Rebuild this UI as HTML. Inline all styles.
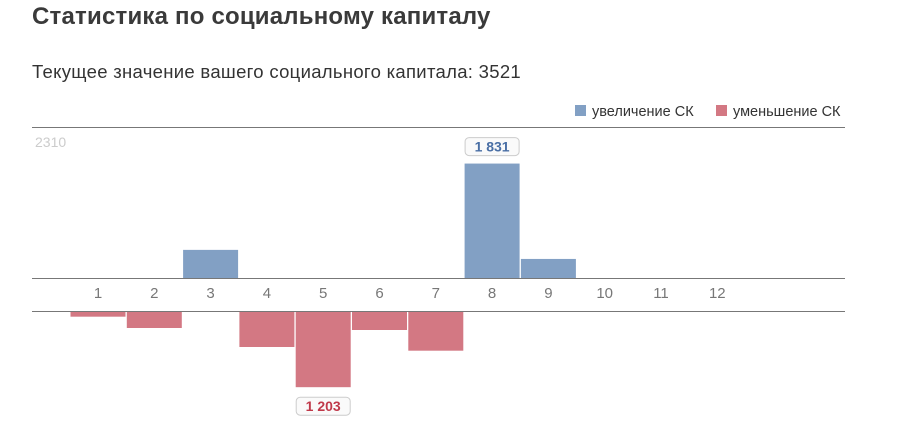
<!DOCTYPE html>
<html><head><meta charset="utf-8"><style>
body{margin:0;width:900px;height:440px;background:#fff;font-family:"Liberation Sans",sans-serif;overflow:hidden;position:relative}
h1{position:absolute;left:32px;top:3px;margin:0;font-size:24px;font-weight:bold;color:#3a3a3a;letter-spacing:0.2px}
.sub{position:absolute;left:32px;top:61px;font-size:18.5px;color:#333;letter-spacing:0.3px}
</style></head><body>
<h1>Статистика по социальному капиталу</h1>
<div class="sub">Текущее значение вашего социального капитала: 3521</div>
<svg id="c" width="900" height="440" style="position:absolute;left:0;top:0" font-family="Liberation Sans, sans-serif"></svg>
<script>
const categories=[1,2,3,4,5,6,7,8,9,10,11,12];
const increases=[0,0,450,0,0,0,0,1831,305,0,0,0];
const decreases=[75,256,0,560,1203,288,619,0,0,0,0,0];
const maxLabel="2310";
const legendLabels=["увеличение СК","уменьшение СК"];
const NS="http://www.w3.org/2000/svg",svg=document.getElementById('c');
function mk(t,a,p){const e=document.createElementNS(NS,t);for(const k in a)e.setAttribute(k,a[k]);(p||svg).appendChild(e);return e;}
const upBase=278,lowBase=312,k=0.0625,x0=70.5,pitch=56.3,bw=55;
const xs=i=>x0+i*pitch, yUp=v=>upBase-v*k, yDn=v=>lowBase+v*k;
let l=mk('line',{x1:32,x2:845,y1:127.5,y2:127.5,stroke:'#777','stroke-width':1});

l=mk('line',{x1:32,x2:845,y1:upBase+0.5,y2:upBase+0.5,stroke:'#777','stroke-width':1});

l=mk('line',{x1:32,x2:845,y1:lowBase-0.5,y2:lowBase-0.5,stroke:'#777','stroke-width':1});

let t=mk('text',{x:35,y:147,'font-size':14,fill:'#ccc'});t.textContent=maxLabel;

categories.forEach((c,i)=>{
 const tx=mk('text',{x:xs(i)+bw/2,y:298,'font-size':15,fill:'#777','text-anchor':'middle'});tx.textContent=c;
 
 if(increases[i]>0){const r=mk('rect',{x:xs(i),y:yUp(increases[i]),width:bw,height:upBase-yUp(increases[i]),fill:'#82a0c4'});
  }
 if(decreases[i]>0){const r=mk('rect',{x:xs(i),y:lowBase,width:bw,height:yDn(decreases[i])-lowBase,fill:'#d37883'});
  }
});
function fmt(v){return String(v).replace(/\B(?=(\d{3})+(?!\d))/g,' ');}
function tip(i,v,up){
 const cx=xs(i)+bw/2,w=54,h=18,y=up?yUp(v)-26:yDn(v)+10;
 const g=mk('g',{});
 mk('rect',{x:cx-w/2,y:y,width:w,height:h,rx:4,fill:'#fafafa',stroke:'#ccc'},g);
 const tt=mk('text',{x:cx,y:y+14,'font-size':14,'font-weight':'bold',fill:up?'#4a6fa5':'#c0394a','text-anchor':'middle'},g);tt.textContent=fmt(v);
}
const mi=increases.indexOf(Math.max(...increases)),md=decreases.indexOf(Math.max(...decreases));
tip(mi,increases[mi],true);tip(md,decreases[md],false);
const lc=['#82a0c4','#d37883'],lx=[575,716];
legendLabels.forEach((s,i)=>{
 const g=mk('g',{});
 mk('rect',{x:lx[i],y:105,width:11,height:11,fill:lc[i]},g);
 const tt=mk('text',{x:lx[i]+17,y:116,'font-size':14.5,fill:'#333'},g);tt.textContent=s;
});
</script>
</body></html>
